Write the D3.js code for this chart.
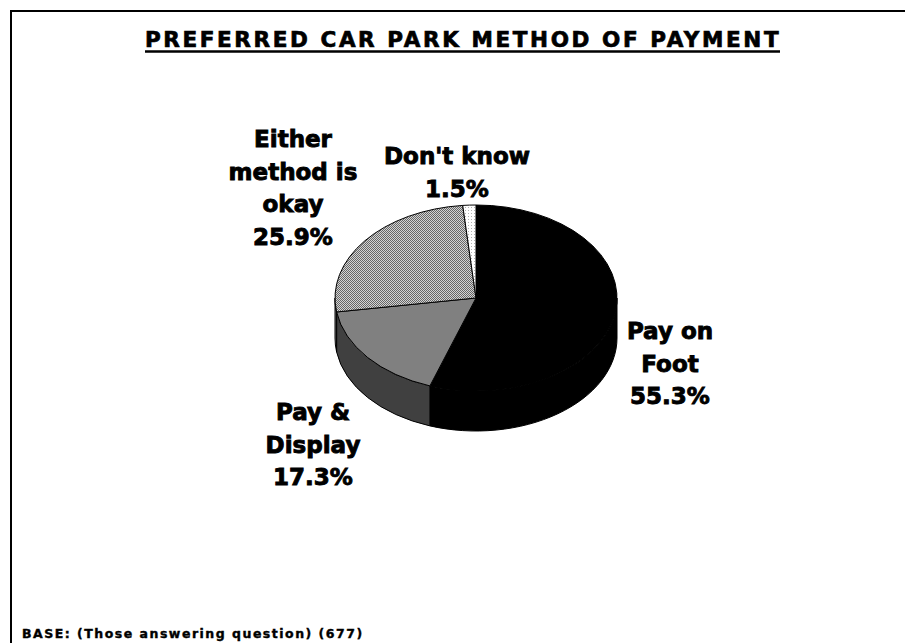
<!DOCTYPE html>
<html>
<head>
<meta charset="utf-8">
<script src="https://cdn.jsdelivr.net/npm/d3@7"></script>
<style>
  html, body { margin: 0; padding: 0; background: #fff; }
  svg { display: block; }
  text { font-family: "DejaVu Sans", Verdana, sans-serif; font-weight: bold; fill: #000; }
</style>
</head>
<body>
<svg id="chart" width="905" height="643"></svg>
<script>
// Survey answers: preferred way of paying at the car park (%)
const categories = ["Pay on Foot", "Pay & Display", "Either method is okay", "Don't know"];
const values = [55.3, 17.3, 25.9, 1.5];
const labelLines = [
  ["Pay on", "Foot", "55.3%"],
  ["Pay &", "Display", "17.3%"],
  ["Either", "method is", "okay", "25.9%"],
  ["Don't know", "1.5%"]
];
const titleText = "PREFERRED CAR PARK METHOD OF PAYMENT";
const baseText = "BASE: (Those answering question) (677)";

const svg = d3.select("#chart");
const W = 905, H = 643;

// frame (runs off the right and bottom edges)
svg.append("path")
  .attr("d", `M11,${H + 5}V11H${W + 5}`)
  .attr("fill", "none").attr("stroke", "#000").attr("stroke-width", 2);

// title with underline
svg.append("text")
  .attr("x", 145).attr("y", 47)
  .style("font-size", "21.5px").style("letter-spacing", "2.6px")
  .attr("stroke", "#000").attr("stroke-width", 0.7)
  .text(titleText);
svg.append("line")
  .attr("x1", 145).attr("x2", 780).attr("y1", 51.5).attr("y2", 51.5)
  .attr("stroke", "#000").attr("stroke-width", 2.4);

// fill patterns
const defs = svg.append("defs");
const checker = defs.append("pattern").attr("id", "checker")
  .attr("width", 2).attr("height", 2).attr("patternUnits", "userSpaceOnUse");
checker.append("rect").attr("width", 2).attr("height", 2).attr("fill", "#d4d4d4");
checker.append("rect").attr("width", 1).attr("height", 1).attr("fill", "#666");
checker.append("rect").attr("x", 1).attr("y", 1).attr("width", 1).attr("height", 1).attr("fill", "#666");

const dots = defs.append("pattern").attr("id", "dots")
  .attr("width", 3).attr("height", 3).attr("patternUnits", "userSpaceOnUse");
dots.append("rect").attr("width", 3).attr("height", 3).attr("fill", "#fff");
dots.append("rect").attr("width", 1).attr("height", 1).attr("fill", "#b0b0b0");

const topFill = d3.scaleOrdinal().domain(categories)
  .range(["#000000", "#808080", "url(#checker)", "url(#dots)"]);
const sideFill = d3.scaleOrdinal().domain(categories)
  .range(["#000000", "#404040", "#6a6a6a", "#bdbdbd"]);

// 3D pie geometry
const cx = 476, cy = 298, rx = 141, ry = 93, depth = 40;
const pt = (a, dy = 0) => [cx + rx * Math.sin(a), cy - ry * Math.cos(a) + dy];

const arcs = d3.pie().sort(null).value(d => d.v)(
  categories.map((c, i) => ({ c, v: values[i] }))
);

function topPath(d) {
  const [x0, y0] = pt(d.startAngle);
  const [x1, y1] = pt(d.endAngle);
  const large = d.endAngle - d.startAngle > Math.PI ? 1 : 0;
  return `M${cx},${cy}L${x0},${y0}A${rx},${ry} 0 ${large} 1 ${x1},${y1}Z`;
}

function sidePath(d) {
  const s = Math.max(d.startAngle, Math.PI / 2);
  const e = Math.min(d.endAngle, 3 * Math.PI / 2);
  if (s >= e) return null;
  const [x0, y0] = pt(s);
  const [x1, y1] = pt(e);
  return `M${x0},${y0}A${rx},${ry} 0 0 1 ${x1},${y1}` +
         `L${x1},${y1 + depth}A${rx},${ry} 0 0 0 ${x0},${y0 + depth}Z`;
}

const g = svg.append("g");
g.selectAll("path.side").data(arcs.filter(sidePath)).join("path")
  .attr("class", "side")
  .attr("d", sidePath)
  .attr("fill", d => sideFill(d.data.c))
  .attr("stroke", "#000").attr("stroke-width", 1).attr("stroke-linejoin", "round");

g.selectAll("path.top").data(arcs).join("path")
  .attr("class", "top")
  .attr("d", topPath)
  .attr("fill", d => topFill(d.data.c))
  .attr("stroke", "#000").attr("stroke-width", 1).attr("stroke-linejoin", "round");

// slice labels
const labelPos = [
  { x: 670, y: 339 },
  { x: 313, y: 420 },
  { x: 293, y: 147 },
  { x: 457, y: 164 }
];
const lineGap = 32.5;
labelLines.forEach((lines, i) => {
  const t = svg.append("text")
    .attr("text-anchor", "middle")
    .style("font-size", "23px")
    .attr("stroke", "#000").attr("stroke-width", 0.9);
  lines.forEach((ln, j) => {
    t.append("tspan").attr("x", labelPos[i].x).attr("y", labelPos[i].y + j * lineGap).text(ln);
  });
});

// base note
svg.append("text")
  .attr("x", 22).attr("y", 638)
  .style("font-size", "12.5px").style("letter-spacing", "1.5px")
  .attr("stroke", "#000").attr("stroke-width", 0.4)
  .text(baseText);
</script>
</body>
</html>
